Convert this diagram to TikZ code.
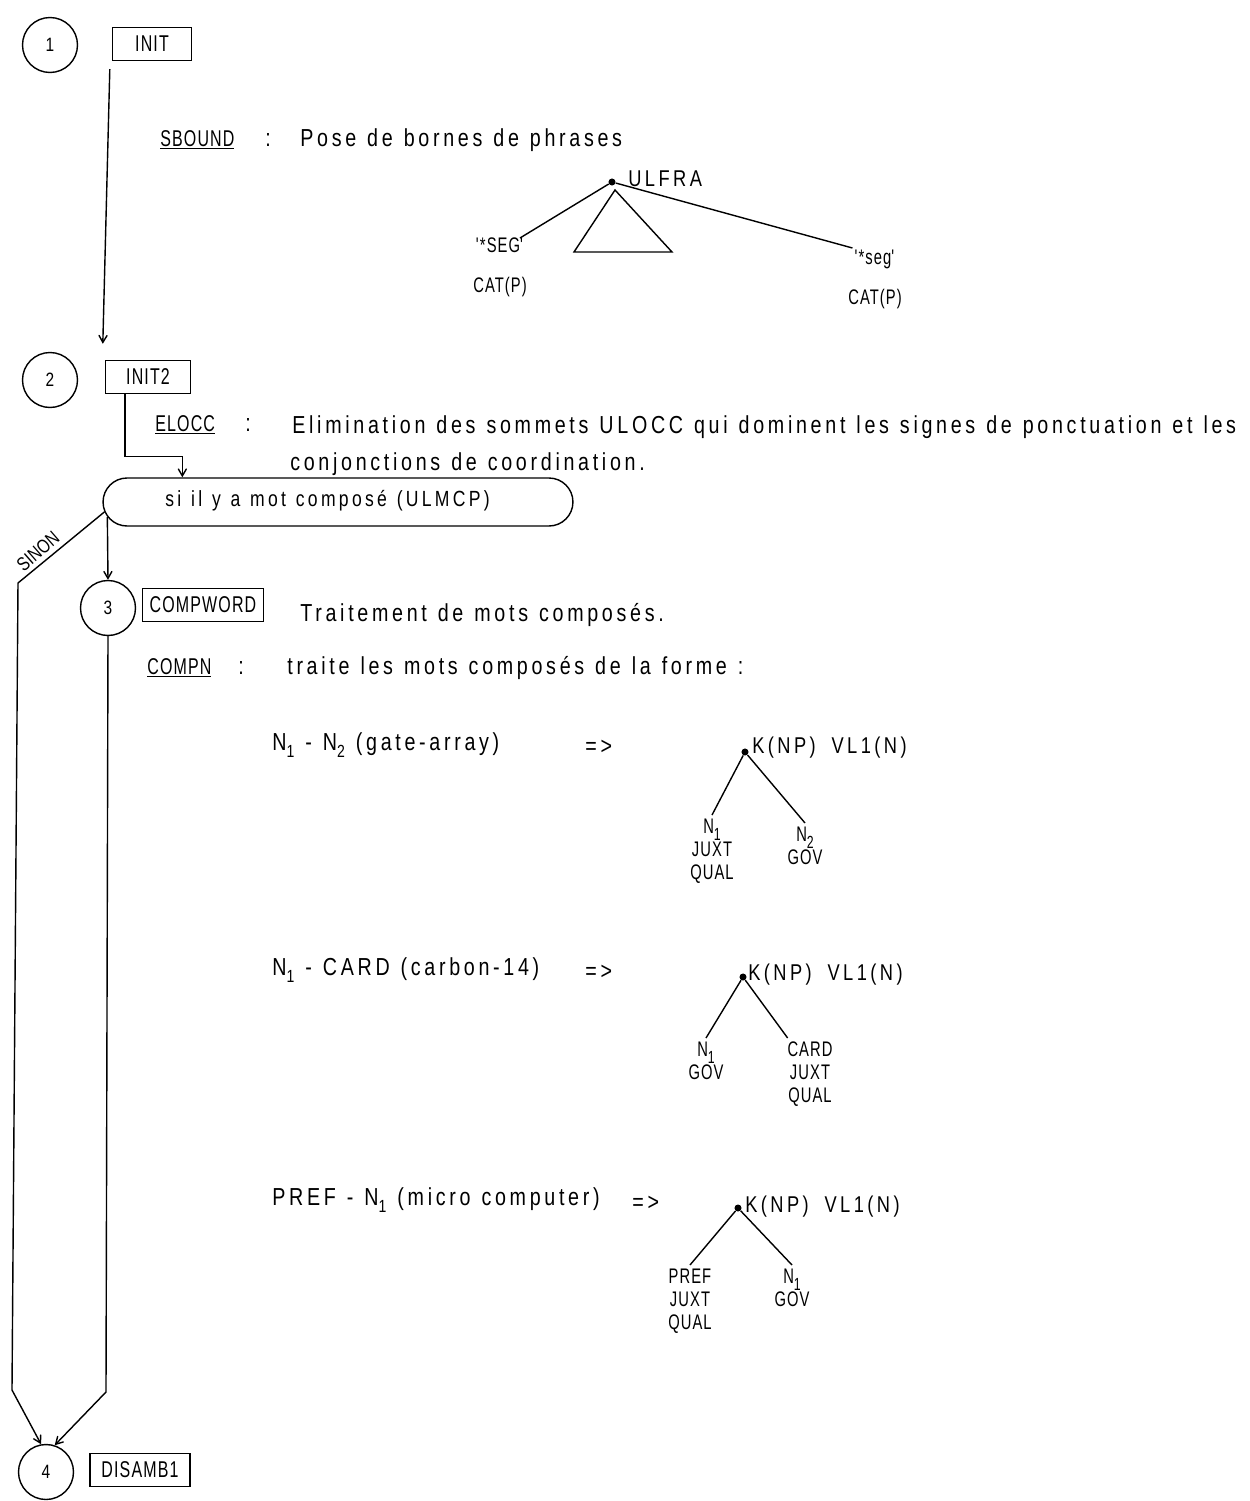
\documentclass[tikz,border=0pt]{standalone}
\usepackage{fontspec}
\setmainfont{Liberation Sans}[FakeStretch=0.8,LetterSpace=15,WordSpace=1.2]
\newfontfamily\feuillefont{Liberation Sans}[FakeStretch=0.7,LetterSpace=5]
\newfontfamily\boitefont{Liberation Sans}[FakeStretch=0.8]
\newcommand{\indice}[1]{\raisebox{-0.6ex}{\fontsize{10}{10}\selectfont #1}}
\usetikzlibrary{shapes,arrows,positioning,calc}

\begin{document}
\begin{tikzpicture}[
  x=0.02cm, y=-0.02cm,
  every node/.style={font=\fontsize{14}{16}\selectfont},
  etape/.style={circle, draw, thick, minimum size=1.1cm, inner sep=0pt, font=\boitefont\fontsize{11}{12}\selectfont},
  phase/.style={rectangle, draw, thick, minimum height=0.66cm, inner xsep=4pt, font=\feuillefont\fontsize{13}{14}\selectfont},
  test/.style={rectangle, draw, thick, rounded corners=0.48cm, minimum width=9.4cm, minimum height=0.96cm},
  txt/.style={anchor=west, inner sep=0pt},
  nom/.style={anchor=west, inner sep=0pt, font=\feuillefont\fontsize{13}{15}\selectfont},
  arbre/.style={anchor=west, inner sep=0pt, font=\fontsize{13}{15}\selectfont},
  feuille/.style={align=center, inner sep=2pt, anchor=north, font=\feuillefont\fontsize{12}{13}\selectfont},
  racine/.style={circle, fill, inner sep=0pt, minimum size=4pt},
  arrow/.style={->, thick, >=angle 60},
  branche/.style={thick}
]
\useasboundingbox (0,0) rectangle (1250,1501);

% etapes et phases
\node[etape] (e1) at (50,45) {1};
\node[phase, minimum width=1.58cm] (init) at (152,44) {INIT};
\node[etape] (e2) at (50,380) {2};
\node[phase, minimum width=1.7cm] (init2) at (148,377) {INIT2};
\node[test] (test) at (338,502) {};
\node[txt, font=\fontsize{12.5}{14}\selectfont] (testtxt) at (165,501) {si il y a mot composé (ULMCP)};
\node[etape] (e3) at (108,608) {3};
\node[phase] (compword) at (203,605) {COMPWORD};
\node[etape] (e4) at (46,1472) {4};
\node[phase, minimum width=2cm] (disamb) at (140,1470) {DISAMB1};

% textes
\node[nom] (sbound) at (160,140) {\underline{SBOUND}};
\node[txt] at (265,140) {:};
\node[txt] (sboundtxt) at (300,140) {Pose de bornes de phrases};
\node[nom] (elocc) at (155,425) {\underline{ELOCC}};
\node[txt] at (245,425) {:};
\node[txt] (elocctxt) at (292,427) {Elimination des sommets ULOCC qui dominent les signes de ponctuation et les};
\node[txt] (elocctxt2) at (290,464) {conjonctions de coordination.};
\node[txt] (compwordtxt) at (300,615) {Traitement de mots composés.};
\node[nom] (compn) at (147,668) {\underline{COMPN}};
\node[txt] at (238,668) {:};
\node[txt] (compntxt) at (287,668) {traite les mots composés de la forme :};

% connecteurs
\draw[arrow] ($(init.south west)+(-2,8)$) -- ($(init2.north west)+(-2,-16)$);
\draw[arrow] ($(init2.south west)+(20,0)$) -- ++(0,62) -| ($(test.north west)+(80,0)$);
\draw[arrow] ($(test.west)+(5,15)$) -- (e3.north);
\draw[arrow] ($(test.west)+(2,10)$) -- (18,583) -- (12,1390) -- (e4.100);
\draw[arrow] (e3.south) -- (106,1392) -- (e4.72);
\node[rotate=41, anchor=south, inner sep=2pt, font=\boitefont\fontsize{11}{12}\selectfont] at (45,559) {SINON};

% arbre ULFRA
\node[racine] (u0) at (612,182) {};
\node[arbre] at (628,179) {ULFRA};
\node[feuille] (s1) at (500,234) {\textquotesingle *SEG\textquotesingle\\[10pt] CAT(P)};
\node[feuille] (s2) at (875,246) {\textquotesingle *seg\textquotesingle\\[10pt] CAT(P)};
\draw[branche] (u0) -- ($(s1.north)+(20,4)$);
\draw[branche] (u0) -- ($(s2.north west)+(8,2)$);
\draw[branche] ($(u0)+(3,8)$) -- ++(-41,62) -- ++(98,0) -- cycle;

% regle 1
\node[txt] (r1) at (272,745) {N\indice{1} - N\indice{2} (gate-array)};
\node[txt] at (585,747) {=>};
\node[racine] (a0) at (745,752) {};
\node[arbre] at (752,748) {K(NP)\hspace{9pt}VL1(N)};
\node[feuille] (a1) at (712,815) {N\indice{1}\\JUXT\\QUAL};
\node[feuille] (a2) at (805,823) {N\indice{2}\\GOV};
\draw[branche] (a0) -- (a1.north);
\draw[branche] (a0) -- (a2.north);

% regle 2
\node[txt] (r2) at (272,970) {N\indice{1} - CARD (carbon-14)};
\node[txt] at (585,972) {=>};
\node[racine] (b0) at (743,977) {};
\node[arbre] at (748,975) {K(NP)\hspace{9pt}VL1(N)};
\node[feuille] (b1) at (706,1038) {N\indice{1}\\GOV};
\node[feuille] (b2) at (810,1038) {CARD\\JUXT\\QUAL};
\draw[branche] (b0) -- (b1.north);
\draw[branche] (b0) -- ($(b2.north west)+(4,0)$);

% regle 3
\node[txt] (r3) at (272,1200) {PREF - N\indice{1} (micro computer)};
\node[txt] at (632,1203) {=>};
\node[racine] (c0) at (738,1208) {};
\node[arbre] at (745,1207) {K(NP)\hspace{9pt}VL1(N)};
\node[feuille] (c1) at (690,1265) {PREF\\JUXT\\QUAL};
\node[feuille] (c2) at (792,1265) {N\indice{1}\\GOV};
\draw[branche] (c0) -- (c1.north);
\draw[branche] (c0) -- (c2.north);
\end{tikzpicture}
\end{document}
